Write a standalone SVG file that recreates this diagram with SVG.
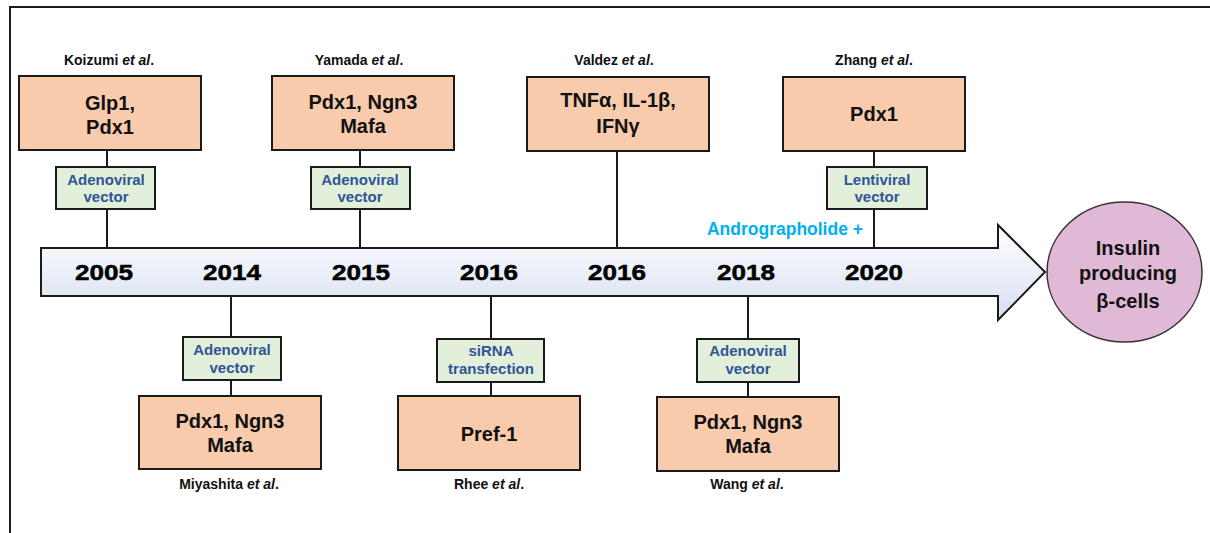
<svg xmlns="http://www.w3.org/2000/svg" width="1210" height="533" viewBox="0 0 1210 533">
<defs>
<linearGradient id="tl" x1="0" y1="0" x2="0" y2="1">
<stop offset="0" stop-color="#ffffff"/>
<stop offset="1" stop-color="#d6dff0"/>
</linearGradient>
<style>
.box{fill:#f8cbad;stroke:#1a1a1a;stroke-width:2}
.vec{fill:#e2efda;stroke:#1a1a1a;stroke-width:2}
.bt{font-family:"Liberation Sans",Arial,sans-serif;font-weight:bold;font-size:20px;fill:#111;text-anchor:middle}
.vt{font-family:"Liberation Sans",Arial,sans-serif;font-weight:bold;font-size:15px;fill:#2f5597;text-anchor:middle}
.au{font-family:"Liberation Sans",Arial,sans-serif;font-weight:bold;font-size:14px;fill:#111;text-anchor:middle}
.yr{font-family:"Liberation Sans",Arial,sans-serif;font-weight:bold;font-size:22px;fill:#000;stroke:#000;stroke-width:0.5;text-anchor:middle}
.ln{stroke:#1a1a1a;stroke-width:2;fill:none}
</style>
</defs>
<rect width="1210" height="533" fill="#fff"/>
<path d="M10,533 V7 H1210" fill="none" stroke="#1a1a1a" stroke-width="2"/>

<g id="timeline">
<path d="M41,248 H998 V225 L1045,272 L998,320 V296 H41 Z" fill="url(#tl)" stroke="#1a1a1a" stroke-width="2" stroke-linejoin="miter"/>
<text class="yr" x="104" y="280" textLength="58" lengthAdjust="spacingAndGlyphs">2005</text>
<text class="yr" x="232" y="280" textLength="58" lengthAdjust="spacingAndGlyphs">2014</text>
<text class="yr" x="361" y="280" textLength="58" lengthAdjust="spacingAndGlyphs">2015</text>
<text class="yr" x="489" y="280" textLength="58" lengthAdjust="spacingAndGlyphs">2016</text>
<text class="yr" x="617" y="280" textLength="58" lengthAdjust="spacingAndGlyphs">2016</text>
<text class="yr" x="746" y="280" textLength="58" lengthAdjust="spacingAndGlyphs">2018</text>
<text class="yr" x="874" y="280" textLength="58" lengthAdjust="spacingAndGlyphs">2020</text>
</g>

<g id="connectors">
<line class="ln" x1="107" y1="150" x2="107" y2="248"/>
<line class="ln" x1="360" y1="150" x2="360" y2="248"/>
<line class="ln" x1="617" y1="151" x2="617" y2="248"/>
<line class="ln" x1="874" y1="151" x2="874" y2="248"/>
<line class="ln" x1="231" y1="296" x2="231" y2="396"/>
<line class="ln" x1="491" y1="296" x2="491" y2="396"/>
<line class="ln" x1="748" y1="296" x2="748" y2="397"/>
</g>

<g id="koizumi">
<text class="au" x="109" y="65">Koizumi <tspan font-style="italic">et al</tspan>.</text>
<rect class="box" x="19" y="76" width="182" height="74"/>
<text class="bt" x="110" y="110">Glp1,</text>
<text class="bt" x="110" y="134">Pdx1</text>
</g>
<g id="koizumi-vector">
<rect class="vec" x="56" y="167" width="99" height="42"/>
<text class="vt" x="106" y="185">Adenoviral</text>
<text class="vt" x="106" y="202">vector</text>
</g>

<g id="yamada">
<text class="au" x="359" y="65">Yamada <tspan font-style="italic">et al</tspan>.</text>
<rect class="box" x="272" y="76" width="182" height="74"/>
<text class="bt" x="363" y="109">Pdx1, Ngn3</text>
<text class="bt" x="363" y="133">Mafa</text>
</g>
<g id="yamada-vector">
<rect class="vec" x="311" y="167" width="99" height="42"/>
<text class="vt" x="360" y="185">Adenoviral</text>
<text class="vt" x="360" y="202">vector</text>
</g>

<g id="valdez">
<text class="au" x="614" y="65">Valdez <tspan font-style="italic">et al</tspan>.</text>
<rect class="box" x="527" y="77" width="182" height="74"/>
<text class="bt" x="618" y="107">TNFα, IL-1β,</text>
<text class="bt" x="618" y="133">IFNγ</text>
</g>

<g id="zhang">
<text class="au" x="874" y="65">Zhang <tspan font-style="italic">et al</tspan>.</text>
<rect class="box" x="783" y="77" width="182" height="74"/>
<text class="bt" x="874" y="121">Pdx1</text>
</g>
<g id="zhang-vector">
<rect class="vec" x="827" y="167" width="100" height="42"/>
<text class="vt" x="877" y="185">Lentiviral</text>
<text class="vt" x="877" y="202">vector</text>
</g>

<g id="andrographolide">
<text x="863" y="235" font-family="Liberation Sans, Arial, sans-serif" font-weight="bold" font-size="17.5" fill="#00b0f0" text-anchor="end">Andrographolide +</text>
</g>

<g id="miyashita-vector">
<rect class="vec" x="183" y="337" width="98" height="43"/>
<text class="vt" x="232" y="355">Adenoviral</text>
<text class="vt" x="232" y="373">vector</text>
</g>
<g id="miyashita">
<rect class="box" x="139" y="396" width="182" height="73"/>
<text class="bt" x="230" y="428">Pdx1, Ngn3</text>
<text class="bt" x="230" y="452">Mafa</text>
<text class="au" x="229" y="489">Miyashita <tspan font-style="italic">et al</tspan>.</text>
</g>

<g id="rhee-vector">
<rect class="vec" x="437" y="339" width="107" height="43"/>
<text class="vt" x="491" y="356">siRNA</text>
<text class="vt" x="491" y="374">transfection</text>
</g>
<g id="rhee">
<rect class="box" x="398" y="396" width="182" height="74"/>
<text class="bt" x="489" y="441">Pref-1</text>
<text class="au" x="489" y="489">Rhee <tspan font-style="italic">et al</tspan>.</text>
</g>

<g id="wang-vector">
<rect class="vec" x="697" y="339" width="102" height="43"/>
<text class="vt" x="748" y="356">Adenoviral</text>
<text class="vt" x="748" y="374">vector</text>
</g>
<g id="wang">
<rect class="box" x="657" y="397" width="182" height="74"/>
<text class="bt" x="748" y="429">Pdx1, Ngn3</text>
<text class="bt" x="748" y="453">Mafa</text>
<text class="au" x="747" y="489">Wang <tspan font-style="italic">et al</tspan>.</text>
</g>

<g id="insulin">
<ellipse cx="1124.5" cy="272" rx="77.5" ry="70" fill="#e0b9d6" stroke="#333" stroke-width="1.5"/>
<text class="bt" x="1128" y="255" font-size="24">Insulin</text>
<text class="bt" x="1128" y="280" font-size="24">producing</text>
<text class="bt" x="1128" y="308" font-size="24">β-cells</text>
</g>
</svg>
